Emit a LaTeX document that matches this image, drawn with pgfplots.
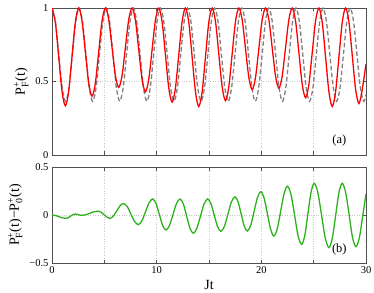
\documentclass[border=0pt]{standalone}
\usepackage{amsmath}
\usepackage{fontspec}
\setmainfont{Liberation Serif}
\usepackage{pgfplots}
\pgfplotsset{compat=1.18}
\definecolor{curvered}{HTML}{FF0000}
\definecolor{curvegreen}{HTML}{2CB21A}
\definecolor{curvegray}{HTML}{808080}
\definecolor{framegray}{HTML}{505050}
\pgfplotsset{
  panel/.style={
    scale only axis, width=314pt, xmin=0, xmax=30,
    xtick={0,5,...,30}, tick align=inside, major tick length=3.5pt,
    axis line style={framegray, line width=0.8pt},
    tick style={framegray, line width=0.6pt},
    xmajorgrids, ymajorgrids, grid style={dotted, black!22, line width=0.5pt},
    tick label style={font=\fontsize{10.5}{12}\selectfont},
    label style={font=\fontsize{14}{16}\selectfont},
    /pgf/number format/assume math mode=true,
  },
}
\begin{document}
\begin{tikzpicture}
\path[use as bounding box] (0,0) rectangle (374pt,292pt);
% (a) populations
\begin{axis}[panel, at={(52pt,137pt)}, anchor=south west, height=147pt,
  ymin=0, ymax=1, ytick={0,0.5,1}, yticklabels={0,0.5,1}, xticklabels={},
  ylabel={P$^{\text{+}}_{\text{F}}$(t)}]
\addplot[curvegray, line width=1.3pt, dash pattern=on 4.5pt off 2.5pt, smooth] coordinates {
(0,1) (0.324,0.907) (0.648,0.683) (0.971,0.458) (1.295,0.365) (1.619,0.458) (1.943,0.683) (2.266,0.907)
(2.59,1) (2.914,0.907) (3.238,0.683) (3.561,0.458) (3.885,0.365) (4.209,0.458) (4.533,0.683) (4.856,0.907)
(5.18,1) (5.504,0.907) (5.828,0.683) (6.151,0.458) (6.475,0.365) (6.799,0.458) (7.123,0.683) (7.446,0.907)
(7.77,1) (8.094,0.907) (8.418,0.683) (8.741,0.458) (9.065,0.365) (9.389,0.458) (9.713,0.683) (10.036,0.907)
(10.36,1) (10.684,0.907) (11.008,0.683) (11.331,0.458) (11.655,0.365) (11.979,0.458) (12.303,0.683) (12.626,0.907)
(12.95,1) (13.274,0.907) (13.598,0.683) (13.921,0.458) (14.245,0.365) (14.569,0.458) (14.893,0.683) (15.216,0.907)
(15.54,1) (15.864,0.907) (16.188,0.683) (16.511,0.458) (16.835,0.365) (17.159,0.458) (17.483,0.683) (17.806,0.907)
(18.13,1) (18.454,0.907) (18.778,0.683) (19.101,0.458) (19.425,0.365) (19.749,0.458) (20.073,0.683) (20.396,0.907)
(20.72,1) (21.044,0.907) (21.368,0.683) (21.691,0.458) (22.015,0.365) (22.339,0.458) (22.663,0.683) (22.986,0.907)
(23.31,1) (23.634,0.907) (23.958,0.683) (24.281,0.458) (24.605,0.365) (24.929,0.458) (25.253,0.683) (25.576,0.907)
(25.9,1) (26.224,0.907) (26.548,0.683) (26.871,0.458) (27.195,0.365) (27.519,0.458) (27.843,0.683) (28.166,0.907)
(28.49,1) (28.814,0.907) (29.138,0.683) (29.461,0.458) (29.785,0.365) (30,0.41)
};
\addplot[curvered, line width=1.3pt, smooth] coordinates {
(0,1) (0.32,0.903) (0.64,0.668) (0.96,0.432) (1.275,0.335) (1.59,0.432) (1.91,0.668) (2.23,0.903)
(2.55,1) (2.87,0.912) (3.19,0.70) (3.51,0.488) (3.825,0.40) (4.14,0.488) (4.46,0.70) (4.78,0.912)
(5.10,1) (5.42,0.921) (5.74,0.73) (6.06,0.539) (6.375,0.46) (6.69,0.539) (7.01,0.73) (7.33,0.921)
(7.65,1) (7.97,0.917) (8.29,0.715) (8.61,0.513) (8.925,0.43) (9.24,0.513) (9.56,0.715) (9.88,0.917)
(10.2,1) (10.52,0.906) (10.84,0.68) (11.16,0.454) (11.475,0.36) (11.79,0.454) (12.11,0.68) (12.43,0.906)
(12.75,1) (13.07,0.902) (13.39,0.665) (13.71,0.428) (14.025,0.33) (14.34,0.428) (14.66,0.665) (14.98,0.902)
(15.3,1) (15.62,0.908) (15.94,0.685) (16.26,0.462) (16.575,0.37) (16.89,0.462) (17.21,0.685) (17.53,0.908)
(17.85,1) (18.17,0.919) (18.49,0.722) (18.81,0.526) (19.125,0.445) (19.44,0.526) (19.76,0.722) (20.08,0.919)
(20.4,1) (20.72,0.920) (21.04,0.728) (21.36,0.535) (21.675,0.455) (21.99,0.535) (22.31,0.728) (22.63,0.920)
(22.95,1) (23.27,0.911) (23.59,0.695) (23.91,0.479) (24.225,0.39) (24.54,0.479) (24.86,0.695) (25.18,0.911)
(25.5,1) (25.82,0.902) (26.14,0.665) (26.46,0.428) (26.775,0.33) (27.09,0.428) (27.41,0.665) (27.73,0.902)
(28.05,1) (28.37,0.905) (28.69,0.675) (29.01,0.445) (29.325,0.35) (29.64,0.445) (30,0.62)
};
\node[font=\fontsize{12.5}{14}\selectfont] at (rel axis cs:0.915,0.1) {(a)};
\end{axis}
% (b) difference
\begin{axis}[panel, at={(52pt,29pt)}, anchor=south west, height=96pt,
  ymin=-0.5, ymax=0.5, ytick={-0.5,0,0.5}, yticklabels={−0.5,0,0.5},
  xticklabels={0,,10,,20,,30}, xlabel={Jt},
  ylabel={P$^{\text{+}}_{\text{F}}$(t)−P$^{\text{+}}_{\text{0}}$(t)}]
\addplot[curvegreen, line width=1.3pt, smooth] coordinates {
(0,0) (0.335,-0.005) (0.67,-0.018) (1.005,-0.030) (1.34,-0.035)
(1.555,-0.028) (1.77,-0.013) (1.985,0.003) (2.2,0.01)
(2.36,0.008) (2.515,0.004) (2.67,-0.001) (2.83,-0.003)
(3.23,0.003) (3.625,0.019) (4.02,0.034) (4.42,0.04)
(4.70,0.029) (4.98,0.003) (5.26,-0.024) (5.54,-0.035)
(5.86,-0.012) (6.185,0.043) (6.51,0.097) (6.83,0.12)
(7.185,0.088) (7.54,0.01) (7.895,-0.068) (8.25,-0.10)
(8.59,-0.061) (8.935,0.034) (9.28,0.128) (9.62,0.167)
(9.94,0.120) (10.255,0.006) (10.57,-0.109) (10.89,-0.156)
(11.225,-0.109) (11.56,0.006) (11.895,0.120) (12.23,0.167)
(12.55,0.115) (12.865,-0.012) (13.18,-0.138) (13.5,-0.19)
(13.84,-0.138) (14.185,-0.012) (14.53,0.115) (14.87,0.167)
(15.19,0.118) (15.505,-0.002) (15.82,-0.121) (16.14,-0.17)
(16.475,-0.117) (16.81,0.01) (17.145,0.137) (17.48,0.19)
(17.775,0.138) (18.07,0.012) (18.365,-0.115) (18.66,-0.167)
(18.985,-0.107) (19.31,0.038) (19.635,0.183) (19.96,0.243)
(20.27,0.175) (20.58,0.012) (20.89,-0.151) (21.2,-0.219)
(21.525,-0.143) (21.85,0.041) (22.175,0.224) (22.5,0.30)
(22.84,0.211) (23.18,-0.003) (23.51,-0.217) (23.85,-0.306)
(24.15,-0.213) (24.45,0.012) (24.75,0.237) (25.05,0.33)
(25.40,0.232) (25.76,-0.005) (26.11,-0.242) (26.46,-0.34)
(26.78,-0.242) (27.10,-0.005) (27.41,0.232) (27.73,0.33)
(28.06,0.233) (28.39,0) (28.71,-0.233) (29.04,-0.33)
(29.37,-0.233) (29.70,0) (30,0.22)
};
\node[font=\fontsize{12.5}{14}\selectfont] at (rel axis cs:0.915,0.14) {(b)};
\end{axis}
\end{tikzpicture}
\end{document}
